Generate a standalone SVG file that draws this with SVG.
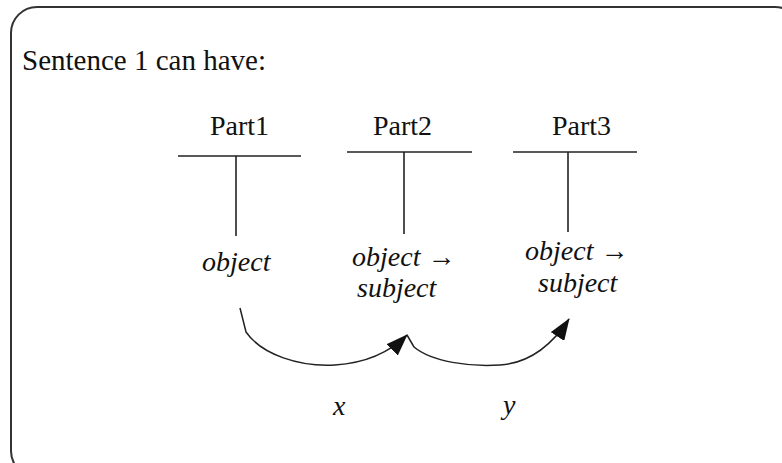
<svg xmlns="http://www.w3.org/2000/svg" width="782" height="463" viewBox="0 0 782 463">
<defs>
<style>
.t{font-family:"Liberation Serif","Times New Roman",serif;font-size:28px;fill:#111}
.h{font-size:29px}
.i{font-style:italic}
.ln{stroke:#222;stroke-width:1.6;fill:none}
.cv{stroke:#222;stroke-width:1.5;fill:none}
</style>
<marker id="ah2" markerWidth="22" markerHeight="16" refX="21" refY="8" orient="auto" markerUnits="userSpaceOnUse" viewBox="0 0 22 16">
<path d="M0,0 L22,8 L0,16 Z" fill="#111"/>
</marker>
</defs>
<rect width="782" height="463" fill="#fff"/>
<rect x="11" y="7" width="790" height="470" rx="26" ry="26" fill="none" stroke="#333" stroke-width="2"/>
<g id="title"><text class="t h" x="22" y="70">Sentence 1 can have:</text></g>
<g id="part1">
<text class="t" x="210" y="135">Part1</text>
<line class="ln" x1="178" y1="156" x2="301" y2="156"/>
<line class="ln" x1="236" y1="156" x2="236" y2="236"/>
<text class="t i" x="202" y="271">object</text>
</g>
<g id="part2">
<text class="t" x="373" y="135">Part2</text>
<line class="ln" x1="347" y1="152" x2="472" y2="152"/>
<line class="ln" x1="404" y1="152" x2="404" y2="234"/>
<text class="t i" x="352" y="266">object →</text>
<text class="t i" x="357" y="297">subject</text>
</g>
<g id="part3">
<text class="t" x="552" y="135">Part3</text>
<line class="ln" x1="513" y1="152" x2="637" y2="152"/>
<line class="ln" x1="568" y1="152" x2="568" y2="232"/>
<text class="t i" x="525" y="260">object →</text>
<text class="t i" x="538" y="292">subject</text>
</g>
<g id="connectors">
<path class="cv" d="M240,308 L246,332 C262,355 300,367 335,365 C365,363 390,352 407,335" marker-end="url(#ah2)"/>
<path class="cv" d="M407,335 L414,347 C432,362 470,367 500,365 C530,363 552,345 569,319" marker-end="url(#ah2)"/>
</g>
<g id="labels">
<text class="t i" x="333" y="415">x</text>
<text class="t i" x="503" y="414">y</text>
</g>
</svg>
